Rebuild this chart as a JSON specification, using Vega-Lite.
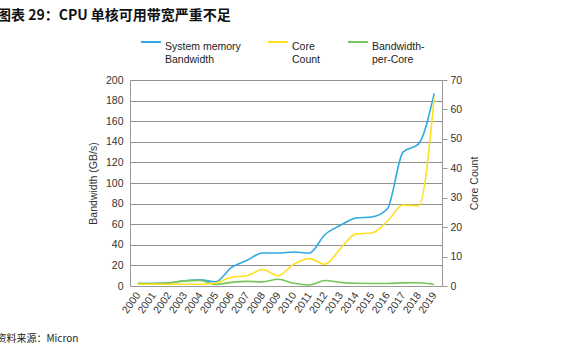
{
  "$schema": "https://vega.github.io/schema/vega-lite/v6.json",
  "width": 312,
  "height": 206,
  "autosize": {"type": "none"},
  "padding": {"left": 130, "top": 80, "right": 128, "bottom": 66},
  "background": "white",
  "title": {
    "text": "图表 29：CPU 单核可用带宽严重不足",
    "anchor": "start",
    "frame": "group",
    "font": "Noto Sans CJK SC",
    "fontSize": 14,
    "fontWeight": "bold",
    "color": "#111111",
    "dx": -133,
    "dy": -4
  },
  "config": {
    "view": {"stroke": null},
    "font": "Liberation Sans"
  },
  "data": {
    "values": [
      {"year": "2000", "series": "System memory Bandwidth", "value": 2.5},
      {"year": "2001", "series": "System memory Bandwidth", "value": 2.5},
      {"year": "2002", "series": "System memory Bandwidth", "value": 3},
      {"year": "2003", "series": "System memory Bandwidth", "value": 5},
      {"year": "2004", "series": "System memory Bandwidth", "value": 6},
      {"year": "2005", "series": "System memory Bandwidth", "value": 4},
      {"year": "2006", "series": "System memory Bandwidth", "value": 18},
      {"year": "2007", "series": "System memory Bandwidth", "value": 25},
      {"year": "2008", "series": "System memory Bandwidth", "value": 32},
      {"year": "2009", "series": "System memory Bandwidth", "value": 32},
      {"year": "2010", "series": "System memory Bandwidth", "value": 33},
      {"year": "2011", "series": "System memory Bandwidth", "value": 32},
      {"year": "2012", "series": "System memory Bandwidth", "value": 50},
      {"year": "2013", "series": "System memory Bandwidth", "value": 59},
      {"year": "2014", "series": "System memory Bandwidth", "value": 66},
      {"year": "2015", "series": "System memory Bandwidth", "value": 67},
      {"year": "2016", "series": "System memory Bandwidth", "value": 75},
      {"year": "2017", "series": "System memory Bandwidth", "value": 130},
      {"year": "2018", "series": "System memory Bandwidth", "value": 138},
      {"year": "2019", "series": "System memory Bandwidth", "value": 187},
      {"year": "2000", "series": "Core Count", "value": 0.6},
      {"year": "2001", "series": "Core Count", "value": 0.6},
      {"year": "2002", "series": "Core Count", "value": 0.6},
      {"year": "2003", "series": "Core Count", "value": 0.6},
      {"year": "2004", "series": "Core Count", "value": 0.6},
      {"year": "2005", "series": "Core Count", "value": 1},
      {"year": "2006", "series": "Core Count", "value": 3},
      {"year": "2007", "series": "Core Count", "value": 3.5},
      {"year": "2008", "series": "Core Count", "value": 5.6},
      {"year": "2009", "series": "Core Count", "value": 3.5},
      {"year": "2010", "series": "Core Count", "value": 7.4},
      {"year": "2011", "series": "Core Count", "value": 9.3},
      {"year": "2012", "series": "Core Count", "value": 7.4},
      {"year": "2013", "series": "Core Count", "value": 12.8},
      {"year": "2014", "series": "Core Count", "value": 17.7},
      {"year": "2015", "series": "Core Count", "value": 18},
      {"year": "2016", "series": "Core Count", "value": 22},
      {"year": "2017", "series": "Core Count", "value": 27.5},
      {"year": "2018", "series": "Core Count", "value": 27.3},
      {"year": "2019", "series": "Core Count", "value": 64},
      {"year": "2000", "series": "Bandwidth-per-Core", "value": 2.5},
      {"year": "2001", "series": "Bandwidth-per-Core", "value": 2.5},
      {"year": "2002", "series": "Bandwidth-per-Core", "value": 3},
      {"year": "2003", "series": "Bandwidth-per-Core", "value": 5},
      {"year": "2004", "series": "Bandwidth-per-Core", "value": 5.5},
      {"year": "2005", "series": "Bandwidth-per-Core", "value": 1.5},
      {"year": "2006", "series": "Bandwidth-per-Core", "value": 3.5},
      {"year": "2007", "series": "Bandwidth-per-Core", "value": 4.5},
      {"year": "2008", "series": "Bandwidth-per-Core", "value": 4},
      {"year": "2009", "series": "Bandwidth-per-Core", "value": 6.5},
      {"year": "2010", "series": "Bandwidth-per-Core", "value": 2.6},
      {"year": "2011", "series": "Bandwidth-per-Core", "value": 1},
      {"year": "2012", "series": "Bandwidth-per-Core", "value": 5.3},
      {"year": "2013", "series": "Bandwidth-per-Core", "value": 3.5},
      {"year": "2014", "series": "Bandwidth-per-Core", "value": 2.6},
      {"year": "2015", "series": "Bandwidth-per-Core", "value": 2.5},
      {"year": "2016", "series": "Bandwidth-per-Core", "value": 2.5},
      {"year": "2017", "series": "Bandwidth-per-Core", "value": 3},
      {"year": "2018", "series": "Bandwidth-per-Core", "value": 3.2},
      {"year": "2019", "series": "Bandwidth-per-Core", "value": 1.5}
    ]
  },
  "encoding": {
    "x": {
      "field": "year",
      "type": "ordinal",
      "scale": {"type": "point", "padding": 0.5},
      "axis": {
        "title": "资料来源：Micron",
        "labelAngle": -55,
        "labelAlign": "right",
        "labelBaseline": "middle",
        "labelFontSize": 10.5,
        "labelColor": "#333333",
        "labelPadding": 7,
        "ticks": false,
        "domainColor": "#999999",
        "titleAnchor": "start",
        "titleAlign": "left",
        "titleX": -134,
        "titleY": 52,
        "titleBaseline": "middle",
        "titleFont": "Noto Sans CJK SC",
        "titleFontSize": 10,
        "titleFontWeight": "normal",
        "titleColor": "#222222"
      }
    },
    "color": {
      "field": "series",
      "type": "nominal",
      "scale": {
        "domain": ["System memory Bandwidth", "Core Count", "Bandwidth-per-Core"],
        "range": ["#2ea9e1", "#ffe01f", "#78c65a"]
      },
      "legend": {
        "title": null,
        "orient": "none",
        "legendX": 10,
        "legendY": -49,
        "direction": "horizontal",
        "symbolType": "stroke",
        "symbolSize": 400,
        "symbolStrokeWidth": 2,
        "labelFontSize": 10.5,
        "labelColor": "#222222",
        "labelOffset": 3,
        "labelBaseline": "top",
        "labelLineHeight": 11,
        "columnPadding": 23,
        "labelExpr": "datum.label == 'System memory Bandwidth' ? ['System memory', 'Bandwidth'] : datum.label == 'Core Count' ? ['Core', 'Count'] : ['Bandwidth-', 'per-Core']"
      }
    }
  },
  "layer": [
    {
      "transform": [{"filter": "datum.series !== 'Core Count'"}],
      "mark": {"type": "line", "interpolate": "monotone", "strokeWidth": 1.6},
      "encoding": {
        "y": {
          "field": "value",
          "type": "quantitative",
          "scale": {"domain": [0, 200]},
          "axis": {
            "title": "Bandwidth (GB/s)",
            "values": [0, 20, 40, 60, 80, 100, 120, 140, 160, 180, 200],
            "ticks": false,
            "grid": true,
            "gridColor": "#8f8f8f",
            "gridWidth": 1.2,
            "domainColor": "#999999",
            "labelFontSize": 10.5,
            "labelColor": "#333333",
            "labelPadding": 7,
            "titleFontSize": 10.5,
            "titleFontWeight": "normal",
            "titleColor": "#333333",
            "titlePadding": 7
          }
        }
      }
    },
    {
      "transform": [{"filter": "datum.series === 'Core Count'"}],
      "mark": {"type": "line", "interpolate": "monotone", "strokeWidth": 1.6},
      "encoding": {
        "y": {
          "field": "value",
          "type": "quantitative",
          "scale": {"domain": [0, 70]},
          "axis": {
            "orient": "right",
            "title": "Core Count",
            "values": [0, 10, 20, 30, 40, 50, 60, 70],
            "grid": false,
            "ticks": true,
            "tickSize": 5,
            "tickColor": "#999999",
            "domainColor": "#999999",
            "labelFontSize": 10.5,
            "labelColor": "#333333",
            "labelPadding": 3,
            "titleFontSize": 10.5,
            "titleFontWeight": "normal",
            "titleColor": "#333333",
            "titleAngle": 270,
            "titleBaseline": "top",
            "titlePadding": 8
          }
        }
      }
    }
  ],
  "resolve": {"scale": {"y": "independent"}}
}
